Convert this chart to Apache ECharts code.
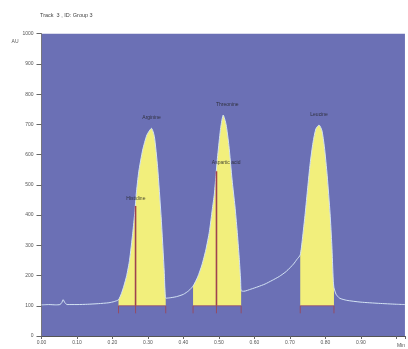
<!DOCTYPE html>
<html><head><meta charset="utf-8">
<script src="https://cdn.jsdelivr.net/npm/echarts@6/dist/echarts.min.js"></script>
<style>html,body{margin:0;padding:0;background:#fff}#c{width:408px;height:349px}</style>
</head><body><div id="c"></div>
<script>
// Chromatogram trace (time in min, response in AU)
const traceX = [0.00,0.02,0.04,0.052,0.057,0.061,0.066,0.072,0.10,0.13,0.16,0.19,0.205,0.217,0.225,0.232,0.24,0.248,0.257,0.263,0.267,0.274,0.285,0.297,0.31,0.318,0.327,0.337,0.346,0.35,0.36,0.38,0.40,0.415,0.427,0.44,0.452,0.463,0.473,0.481,0.487,0.492,0.495,0.498,0.505,0.512,0.52,0.528,0.537,0.545,0.551,0.557,0.561,0.5625,0.57,0.59,0.61,0.63,0.65,0.67,0.69,0.71,0.72,0.729,0.735,0.743,0.75,0.757,0.765,0.773,0.782,0.79,0.797,0.805,0.813,0.818,0.822,0.824,0.83,0.84,0.86,0.90,0.95,1.00,1.024];
const traceY = [103,104,103,104,110,120,110,104,104,105,107,110,114,120,140,165,200,250,340,411,470,543,615,665,687,660,560,395,210,125,126,130,138,150,165,195,235,285,345,417,470,538,580,615,690,731,700,630,516,430,351,260,185,150,148,155,163,172,184,197,214,238,254,268,320,406,490,571,640,685,698,680,626,530,406,300,185,160,138,125,118,112,108,105,104];
// Integrated regions (start/end in min)
const regionStart = [0.217,0.427,0.729];
const regionEnd = [0.35,0.5625,0.824];
// Drop lines between co-eluting peaks
const dropX = [0.265,0.493];
const dropY = [430,545];
// Boundary marks
const boundaryX = [0.217,0.265,0.35,0.427,0.493,0.5625,0.729,0.824];
const baselineY = 100;
// Peak labels
const peakNames = ['Histidine','Arginine','Aspartic acid','Threonine','Leucine'];
const peakX = [0.263,0.31,0.492,0.512,0.782];
const peakY = [411,687,538,731,698];
// Axis ticks
const xTickLabels = ['0.00','0.10','0.20','0.30','0.40','0.50','0.60','0.70','0.80','0.90'];
const yTickLabels = ['0','100','200','300','400','500','600','700','800','900','1000'];

const trace = traceX.map((x,i)=>[x,traceY[i]]);
const fillSeries = regionStart.map((s,k)=>({
  type:'line', data: trace.filter(p=>p[0]>=s-1e-9 && p[0]<=regionEnd[k]+1e-9),
  symbol:'none', lineStyle:{width:0}, smooth:0.2,
  areaStyle:{color:'#f2ef7c', opacity:1, origin: baselineY}, z:2, silent:true
}));
const segs = [];
regionStart.forEach((s,k)=>{segs.push([s,baselineY],[regionEnd[k],baselineY],[regionEnd[k],'-']);});
const marks = [];
boundaryX.forEach(x=>{marks.push([x,baselineY],[x,baselineY-25],[x,'-']);});
const drops = [];
dropX.forEach((x,i)=>{drops.push([x,baselineY],[x,dropY[i]],[x,'-']);});

const labelDist = [11,8,8,8,8];
const labelOff = [1,0,10,4,0];
const font = '"Liberation Sans", Arial, sans-serif';
const chart = echarts.init(document.getElementById('c'));
chart.setOption({
  animation:false,
  backgroundColor:'#ffffff',
  title:{text:'Track  3 , ID: Group 3', left:40, top:12, padding:0,
    textStyle:{fontSize:5.5, fontWeight:'normal', color:'#444', fontFamily:font}},
  grid:{left:41.5, right:1, top:33.7, bottom:13, show:true, backgroundColor:'#6b70b5', borderWidth:0},
  xAxis:{type:'value', min:0, max:1.024, interval:0.1,
    name:'Min', nameLocation:'end', nameGap:-8,
    nameTextStyle:{fontSize:5, color:'#555', fontFamily:font, verticalAlign:'top', align:'left', padding:[7,0,0,0]},
    axisLine:{show:true, lineStyle:{color:'#555', width:1}},
    axisTick:{show:true, length:3, lineStyle:{color:'#666'}},
    splitLine:{show:false},
    axisLabel:{fontSize:5, color:'#555', margin:4, fontFamily:font,
      formatter:v=>{const i=Math.round(v*10); return (Math.abs(v-i/10)<1e-6 && i<xTickLabels.length)?xTickLabels[i]:'';}}},
  yAxis:{type:'value', min:0, max:1000, interval:100,
    name:'AU', nameLocation:'end', nameGap:-10,
    nameTextStyle:{fontSize:5, color:'#555', fontFamily:font, align:'right', padding:[0,23,0,0]},
    axisLine:{show:true, lineStyle:{color:'#666', width:0.8}},
    axisTick:{show:true, length:5, lineStyle:{color:'#666'}},
    splitLine:{show:false},
    axisLabel:{fontSize:5, color:'#555', margin:8, fontFamily:font,
      formatter:v=>yTickLabels[Math.round(v/100)]}},
  series:[
    ...fillSeries,
    {type:'line', data:segs, symbol:'none', lineStyle:{color:'#9a4a6a', width:0.8}, z:3, silent:true},
    {type:'line', data:trace, symbol:'none', smooth:0.2, lineStyle:{color:'#d3e3f3', width:1}, z:4, silent:true},
    {type:'line', data:drops, symbol:'none', lineStyle:{color:'#a0434f', width:1.6}, z:5, silent:true},
    {type:'line', data:marks, symbol:'none', lineStyle:{color:'#a0434f', width:0.8}, z:5, silent:true},
    {type:'scatter', symbolSize:0, z:6, silent:true,
      data:peakNames.map((n,i)=>({value:[peakX[i],peakY[i]], name:n,
        label:{show:true, position:'top', distance:labelDist[i], offset:[labelOff[i],0], formatter:n,
          fontSize:5, color:'#222', fontFamily:font}}))}
  ]
});
</script></body></html>
